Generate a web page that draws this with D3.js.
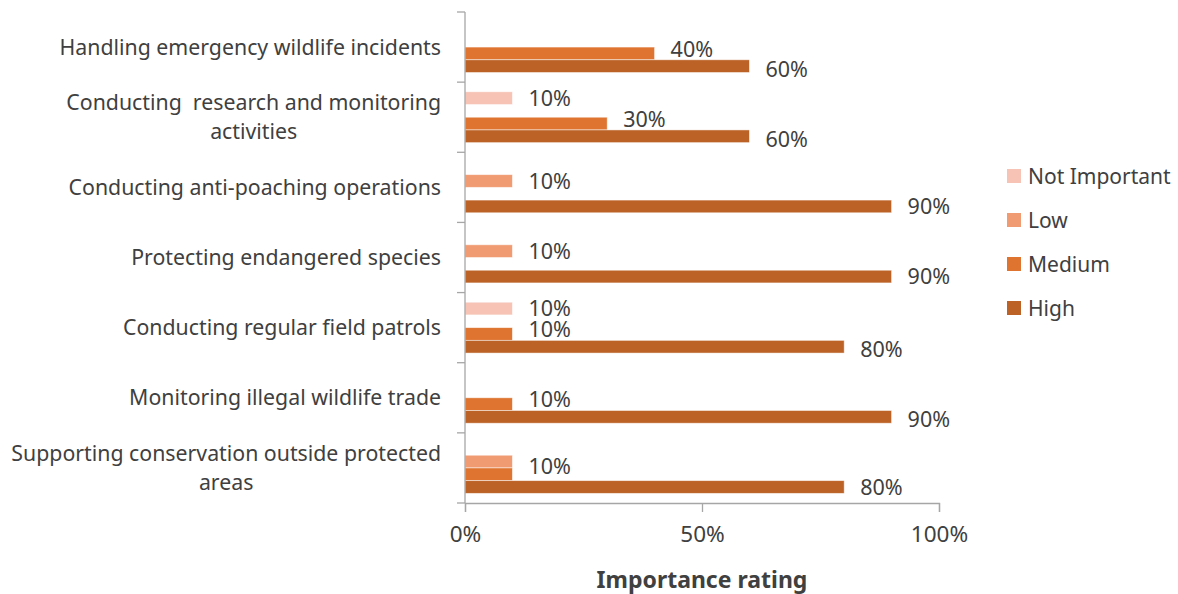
<!DOCTYPE html>
<html>
<head>
<meta charset="utf-8">
<script src="https://cdn.jsdelivr.net/npm/d3@7"></script>
<style>
  html, body { margin: 0; padding: 0; background: #fff; }
  svg { display: block; }
  text { font-family: "Noto Sans", "Open Sans", sans-serif; fill: #404040; }
</style>
</head>
<body>
<svg id="chart" width="1178" height="594"></svg>
<script>
// Survey categories (top to bottom); "\n" marks a line break in the axis label
const categories = [
  "Handling emergency wildlife incidents",
  "Conducting  research and monitoring\nactivities",
  "Conducting anti-poaching operations",
  "Protecting endangered species",
  "Conducting regular field patrols",
  "Monitoring illegal wildlife trade",
  "Supporting conservation outside protected\nareas"
];

const seriesNames = ["Not Important", "Low", "Medium", "High"];

// Share of respondents (%) per rating; null = no responses
const notImportant = [null, 10, null, null, 10, null, null];
const low          = [null, null, 10, 10, null, null, 10];
const medium       = [40, 30, null, null, 10, 10, 10];
const high         = [60, 60, 90, 90, 80, 90, 80];

const xTicks = [0, 50, 100];
const xTitle = "Importance rating";

const seriesValues = [notImportant, low, medium, high];
const colors = ["#f6c3b4", "#f19b73", "#df7430", "#bc6226"];

const fontCat = 21.3, fontVal = 21.5, fontTick = 22.5, fontLegend = 21, fontTitle = 23;

const svg = d3.select("#chart");
const plot = { left: 465, right: 939, top: 12, bottom: 503 };

const x = d3.scaleLinear().domain([0, 100]).range([plot.left, plot.right]);
const y = d3.scaleBand().domain(d3.range(categories.length))
  .range([plot.top, plot.bottom]).paddingInner(0.275).paddingOuter(0.1375);
const ySub = d3.scaleBand().domain(d3.range(seriesNames.length))
  .range([0, y.bandwidth()]);

// Bars
const barData = [];
seriesValues.forEach((vals, s) => vals.forEach((v, c) => {
  if (v != null) barData.push({ s, c, v });
}));

svg.append("g").selectAll("rect").data(barData).join("rect")
  .attr("x", x(0))
  .attr("y", d => y(d.c) + ySub(d.s))
  .attr("width", d => x(d.v) - x(0))
  .attr("height", ySub.bandwidth())
  .attr("fill", d => colors[d.s])
  .attr("stroke", "#fff")
  .attr("stroke-opacity", 0.6)
  .attr("stroke-width", 0.8);

// Value labels: start at the bar centre, merge identical neighbours, then spread apart
const minGap = 20;
const labels = [];
categories.forEach((_, c) => {
  const group = barData.filter(d => d.c === c)
    .map(d => ({ v: d.v, s: [d.s], yc: y(c) + ySub(d.s) + ySub.bandwidth() / 2 }))
    .sort((a, b) => a.yc - b.yc);
  const merged = [];
  group.forEach(g => {
    const last = merged[merged.length - 1];
    if (last && last.v === g.v && g.s[0] - last.s[last.s.length - 1] === 1) {
      last.s.push(g.s[0]);
      last.yc = (last.yc + g.yc) / 2 - 2;
    } else merged.push(g);
  });
  for (let iter = 0; iter < 10; iter++) {
    for (let i = 1; i < merged.length; i++) {
      const a = merged[i - 1], b = merged[i];
      const d = b.yc - a.yc;
      if (d < minGap) {
        const push = (minGap - d) / 2;
        a.yc -= push + 1; b.yc += push - 1;
      }
    }
  }
  merged.forEach(m => labels.push(m));
});

svg.append("g").selectAll("text").data(labels).join("text")
  .attr("x", d => x(d.v) + 16)
  .attr("y", d => d.yc)
  .attr("dy", "0.36em")
  .attr("font-size", fontVal)
  .text(d => d.v + "%");

// Axes
const axisColor = "#a6a6a6";
const yAxisG = svg.append("g");
yAxisG.append("line")
  .attr("x1", plot.left).attr("x2", plot.left)
  .attr("y1", plot.top).attr("y2", plot.bottom)
  .attr("stroke", axisColor).attr("stroke-width", 1.3);
yAxisG.selectAll("line.tick").data(d3.range(categories.length + 1)).join("line")
  .attr("class", "tick")
  .attr("x1", plot.left - 8).attr("x2", plot.left)
  .attr("y1", i => plot.top + i * y.step())
  .attr("y2", i => plot.top + i * y.step())
  .attr("stroke", axisColor).attr("stroke-width", 1.3);

const xAxis = d3.axisBottom(x).tickValues(xTicks).tickFormat(d => d + "%").tickSize(9).tickPadding(14);
const xAxisG = svg.append("g").attr("transform", `translate(0,${plot.bottom})`).call(xAxis);
xAxisG.select(".domain").attr("stroke", axisColor).attr("stroke-width", 1.3);
xAxisG.selectAll(".tick line").attr("stroke", axisColor).attr("stroke-width", 1.3);
xAxisG.selectAll(".tick text")
  .attr("font-family", "'Noto Sans', 'Open Sans', sans-serif")
  .attr("font-size", fontTick).attr("fill", "#404040");

svg.append("text")
  .attr("x", (plot.left + plot.right) / 2)
  .attr("y", 580).attr("dy", "0.36em")
  .attr("text-anchor", "middle")
  .attr("font-size", fontTitle).attr("font-weight", "bold")
  .text(xTitle);

// Category labels: right-aligned block, lines centred within it
const catG = svg.append("g");
categories.forEach((label, c) => {
  const lines = label.split("\n");
  const cy = y(c) + y.bandwidth() / 2;
  const lineH = 29;
  const g = catG.append("g");
  const texts = lines.map((ln, i) => g.append("text")
    .attr("y", cy + (i - (lines.length - 1) / 2) * lineH)
    .attr("dy", "0.36em")
    .attr("text-anchor", "middle")
    .attr("font-size", fontCat)
    .style("white-space", "pre")
    .text(ln));
  const maxW = d3.max(texts, t => t.node().getComputedTextLength());
  texts.forEach(t => t.attr("x", 441 - maxW / 2));
});

// Legend
const legend = svg.append("g").attr("transform", "translate(1007,176)");
seriesNames.forEach((name, i) => {
  const row = legend.append("g").attr("transform", `translate(0,${i * 44})`);
  row.append("rect").attr("x", 0).attr("y", -7).attr("width", 14).attr("height", 14)
    .attr("fill", colors[i]);
  row.append("text").attr("x", 21).attr("y", 0).attr("dy", "0.36em")
    .attr("font-size", fontLegend).text(name);
});
</script>
</body>
</html>
